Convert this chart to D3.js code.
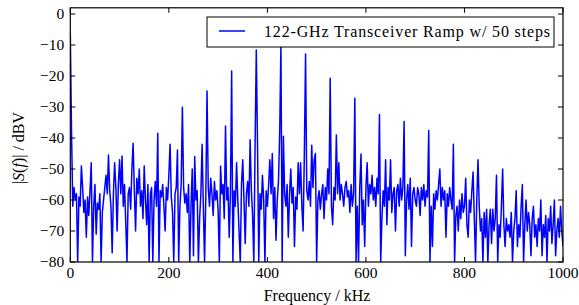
<!DOCTYPE html>
<html lang="en">
<head>
  <meta charset="UTF-8">
  <title>122-GHz Transceiver Ramp spectrum</title>
  <script src="https://d3js.org/d3.v7.min.js"></script>
  <style>
    body { margin: 0; background: #fff; }
    svg { display: block; }
    text { font-family: "Liberation Serif", "Times New Roman", "DejaVu Serif", serif; fill: #000; }
    .tick-label { font-size: 15.5px; }
  </style>
</head>
<body>
  <svg width="579" height="305"></svg>

  <script>
    // spectrum bins, 2.5 kHz apart starting at 0 kHz (values in dBV)
    const freqStep = 2.5;
    const level = [
      -6, -38, -62, -56, -60, -58, -80, -59, -62, -49, -56, -64, -60, -72, -59, -65, -57, -48, -80, -62,
      -55, -71, -61, -63, -58, -80, -64, -60, -56, -52, -58, -45.5, -57, -62, -77, -58, -48, -56, -70, -55,
      -47, -58, -45.8, -62, -55, -67, -80, -58, -56, -63, -50, -41.7, -57, -70, -53, -58, -50, -62, -57, -66,
      -49, -60, -68, -55, -80, -58, -56, -80, -60, -54, -62, -38.5, -80, -57, -59, -55, -62, -70, -56, -60,
      -52, -42, -59, -64, -80, -58, -56, -43.9, -80, -62, -55, -30.1, -56, -61, -58, -64, -55, -80, -62, -50,
      -78, -46, -60, -57, -80, -66, -58, -42, -62, -80, -59, -24.8, -56, -62, -53, -58, -65, -54, -60, -57,
      -63, -80, -49, -58, -55, -66, -36.1, -60, -56, -72, -58, -18.4, -80, -57, -62, -48, -60, -70, -80, -55,
      -47, -60, -74, -58, -54, -62, -40.6, -57, -65, -80, -42.8, -11.6, -42.3, -80, -58, -63, -52, -60, -80, -57,
      -62, -55, -47, -58, -45, -66, -56, -73, -60, -54, -38.3, -10, -80, -39.4, -58, -62, -55, -72, -58, -50,
      -61, -56, -75, -59, -63, -48, -58, -48, -62, -70, -45.5, -12.9, -57, -60, -54, -62, -42.3, -56, -47, -45,
      -80, -60, -57, -63, -58, -55, -66, -56, -60, -50, -58, -20.7, -62, -68, -56, -60, -39, -58, -48, -60,
      -55, -58, -62, -56, -54, -59, -57, -64, -55, -62, -58, -27.2, -80, -62, -80, -56, -45.2, -68, -60, -75,
      -56, -48, -62, -55, -58, -52, -60, -56, -62, -53, -58, -32.4, -80, -66, -57, -62, -47, -68, -56, -60,
      -47, -64, -58, -56, -70, -57, -55, -62, -53, -60, -56, -34.7, -78, -60, -55, -63, -53, -75, -58, -56,
      -60, -62, -56, -58, -65, -56, -60, -55, -62, -57, -59, -37.6, -80, -62, -75, -58, -63, -57, -60, -55,
      -50, -62, -56, -60, -57, -72, -58, -62, -56, -60, -63, -42, -80, -65, -62, -70, -60, -66, -58, -64,
      -62, -53, -68, -72, -60, -64, -57, -51, -66, -80, -60, -47, -62, -70, -66, -80, -64, -72, -63, -80,
      -68, -63, -74, -63, -70, -66, -52, -80, -68, -72, -62, -50, -68, -75, -66, -70, -68, -72, -64, -80,
      -70, -66, -57, -75, -68, -72, -62, -55, -80, -68, -60, -70, -64, -68, -78, -66, -62, -72, -68, -75,
      -66, -70, -60, -78, -68, -72, -65, -80, -66, -70, -62, -74, -68, -60, -78, -70, -66, -72, -62, -70, -75
    ];
    const xTicks = [0, 200, 400, 600, 800, 1000];
    const yTicks = [0, -10, -20, -30, -40, -50, -60, -70, -80];
    const legendLabel = "122-GHz Transceiver Ramp w/ 50 steps";

    const data = level.map((v, i) => ({ f: i * freqStep, v: v }));

    const svg = d3.select("svg");
    const plotLeft = 70.3, plotRight = 563, plotTop = 7.8, plotBottom = 262;

    const x = d3.scaleLinear().domain([0, 1000]).range([plotLeft, plotRight]);
    const y = d3.scaleLinear().domain([-80, 2]).range([plotBottom, plotTop]);

    svg.append("clipPath").attr("id", "plot")
      .append("rect")
      .attr("x", plotLeft).attr("y", plotTop)
      .attr("width", plotRight - plotLeft).attr("height", plotBottom - plotTop);

    const line = d3.line().x(d => x(d.f)).y(d => y(d.v));

    svg.append("path")
      .datum(data)
      .attr("clip-path", "url(#plot)")
      .attr("fill", "none")
      .attr("stroke", "#0000ff")
      .attr("stroke-width", 1.5)
      .attr("stroke-linejoin", "round")
      .attr("d", line);

    // ticks point inward on all four sides
    const tickLen = 5;
    const ticks = svg.append("g").attr("stroke", "#000").attr("stroke-width", 1);
    xTicks.forEach(t => {
      ticks.append("line").attr("x1", x(t)).attr("x2", x(t)).attr("y1", plotBottom).attr("y2", plotBottom - tickLen);
      ticks.append("line").attr("x1", x(t)).attr("x2", x(t)).attr("y1", plotTop).attr("y2", plotTop + tickLen);
    });
    yTicks.forEach(t => {
      ticks.append("line").attr("x1", plotLeft).attr("x2", plotLeft + tickLen).attr("y1", y(t)).attr("y2", y(t));
      ticks.append("line").attr("x1", plotRight).attr("x2", plotRight - tickLen).attr("y1", y(t)).attr("y2", y(t));
    });

    svg.append("rect")
      .attr("x", plotLeft).attr("y", plotTop)
      .attr("width", plotRight - plotLeft).attr("height", plotBottom - plotTop)
      .attr("fill", "none").attr("stroke", "#000").attr("stroke-width", 1.2);

    svg.append("g").selectAll("text")
      .data(xTicks)
      .enter().append("text")
      .attr("class", "tick-label")
      .attr("x", d => x(d))
      .attr("y", plotBottom + 16)
      .attr("text-anchor", "middle")
      .text(d => d);

    svg.append("g").selectAll("text")
      .data(yTicks)
      .enter().append("text")
      .attr("class", "tick-label")
      .attr("x", plotLeft - 6)
      .attr("y", d => y(d) + 5)
      .attr("text-anchor", "end")
      .text(d => d < 0 ? "\u2212" + Math.abs(d) : d);

    svg.append("text")
      .attr("x", 317)
      .attr("y", 301)
      .attr("text-anchor", "middle")
      .style("font-size", "16px")
      .text("Frequency / kHz");

    const yl = svg.append("text")
      .attr("transform", "translate(24," + 148 + ") rotate(-90)")
      .attr("text-anchor", "middle")
      .style("font-size", "16px");
    yl.append("tspan").text("|");
    yl.append("tspan").style("font-style", "italic").text("S");
    yl.append("tspan").text("(");
    yl.append("tspan").style("font-style", "italic").text("f");
    yl.append("tspan").text(")| / dBV");

    // legend
    const lg = svg.append("g");
    lg.append("rect")
      .attr("x", 207).attr("y", 17)
      .attr("width", 347).attr("height", 30)
      .attr("fill", "#fff").attr("stroke", "#000").attr("stroke-width", 1);
    lg.append("line")
      .attr("x1", 219).attr("x2", 245).attr("y1", 31).attr("y2", 31)
      .attr("stroke", "#0000ff").attr("stroke-width", 1.5);
    lg.append("text")
      .attr("x", 264).attr("y", 37)
      .style("font-size", "16px")
      .attr("textLength", 286)
      .attr("lengthAdjust", "spacing")
      .text(legendLabel);
  </script>
</body>
</html>
